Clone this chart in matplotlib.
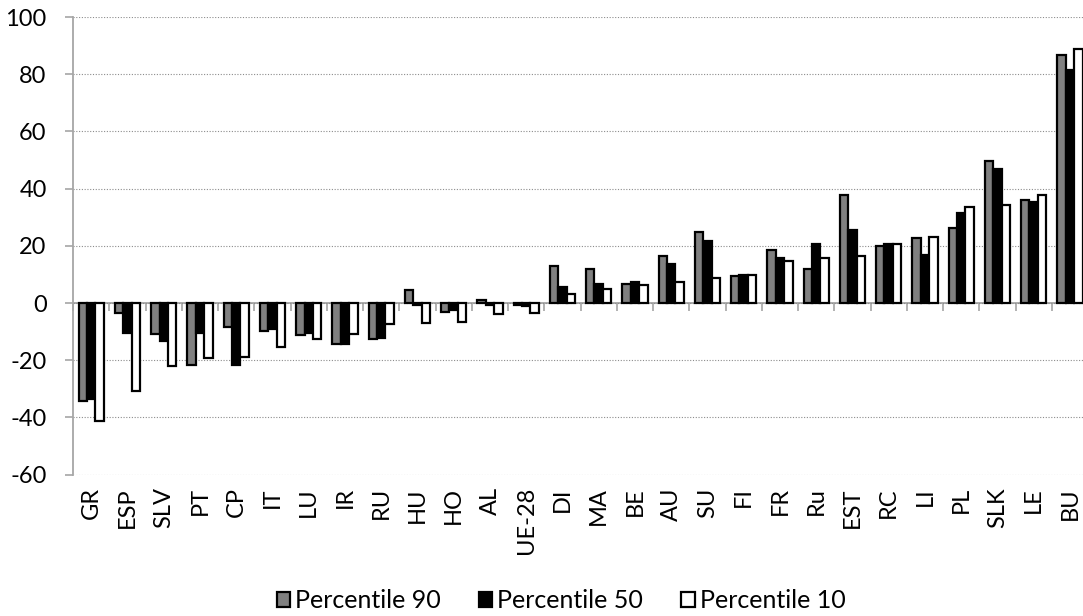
import numpy as np
import matplotlib
matplotlib.use('Agg')
import matplotlib.pyplot as plt
from matplotlib.patches import Patch

# Values
countries = ['GR', 'ESP', 'SLV', 'PT', 'CP', 'IT', 'LU', 'IR', 'RU', 'HU', 'HO', 'AL',
             'UE-28', 'DI', 'MA', 'BE', 'AU', 'SU', 'FI', 'FR', 'Ru', 'EST', 'RC', 'LI',
             'PL', 'SLK', 'LE', 'BU']
p90 = [-34.4, -3.5, -10.9, -21.7, -8.5, -9.7, -11.0, -14.4, -12.6, 4.6, -3.2, 0.9,
       -0.8, 13.1, 11.8, 6.8, 16.4, 24.8, 9.6, 18.5, 11.8, 37.8, 20.1, 22.7,
       26.4, 49.6, 36.2, 86.6]
p50 = [-33.5, -10.5, -13.3, -10.3, -21.5, -9.1, -10.3, -14.2, -12.1, -0.8, -2.3, -0.7,
       -1.2, 5.5, 6.8, 7.2, 13.5, 21.8, 9.9, 15.7, 20.6, 25.5, 20.8, 16.8,
       31.6, 47.0, 35.4, 81.3]
p10 = [-41.1, -30.8, -21.9, -19.3, -18.7, -15.2, -12.6, -10.8, -7.2, -7.0, -6.5, -3.9,
       -3.4, 3.3, 4.8, 6.2, 7.2, 8.9, 9.8, 14.8, 15.7, 16.6, 20.8, 23.2,
       33.7, 34.3, 37.8, 88.7]
series_names = ['Percentile 90', 'Percentile 50', 'Percentile 10']
series_colors = ['#808080', '#000000', '#ffffff']
yticks = [-60, -40, -20, 0, 20, 40, 60, 80, 100]

plt.rcParams['font.family'] = ['Lato', 'DejaVu Sans']
axis_gray = '#a6a6a6'

fig = plt.figure(figsize=(10.83, 6.16), dpi=100)
# plot area runs slightly past the right edge of the image, as in the original
ax = fig.add_axes([0.0675, 0.2294, 0.9372, 0.743])

x = np.arange(len(countries))
w = 0.233
for i, (vals, col) in enumerate(zip([p90, p50, p10], series_colors)):
    ax.bar(x + (i - 1) * w, vals, width=w, color=col, edgecolor='black',
           linewidth=1.6, zorder=3)

ax.set_xlim(-0.5, len(countries) - 0.5)
ax.set_ylim(-60, 100)
ax.set_yticks(yticks)
ax.set_yticklabels([str(t) for t in yticks], fontsize=17)
ax.grid(True, axis='y', linestyle=(0, (1, 1.5)), color='#8c8c8c', linewidth=0.8, zorder=0)
ax.tick_params(axis='y', length=6, color=axis_gray, width=1.2, pad=13)

for s in ['top', 'right', 'bottom']:
    ax.spines[s].set_visible(False)
ax.spines['left'].set_color(axis_gray)
ax.spines['left'].set_linewidth(1.3)

# category labels at the bottom of the plot area
ax.set_xticks(x)
ax.set_xticklabels(countries, rotation=90, fontsize=17)
ax.tick_params(axis='x', length=0, pad=9)

# zero line with category separator ticks
zero = ax.secondary_xaxis(60 / 160)
zero.set_xticks(np.arange(len(countries) + 1) - 0.5)
zero.set_xticklabels([])
zero.tick_params(axis='x', length=6, color=axis_gray, width=1.2)
zero.spines['bottom'].set_color(axis_gray)
zero.spines['bottom'].set_linewidth(1.3)

handles = [Patch(facecolor=c, edgecolor='black', linewidth=1.6) for c in series_colors]
fig.legend(handles, series_names, loc='center', bbox_to_anchor=(0.518, 0.025),
           ncol=3, frameon=False, fontsize=18, handlelength=0.55, handleheight=0.55,
           handletextpad=0.2, columnspacing=1.5)

fig.savefig('out.png', dpi=100)
